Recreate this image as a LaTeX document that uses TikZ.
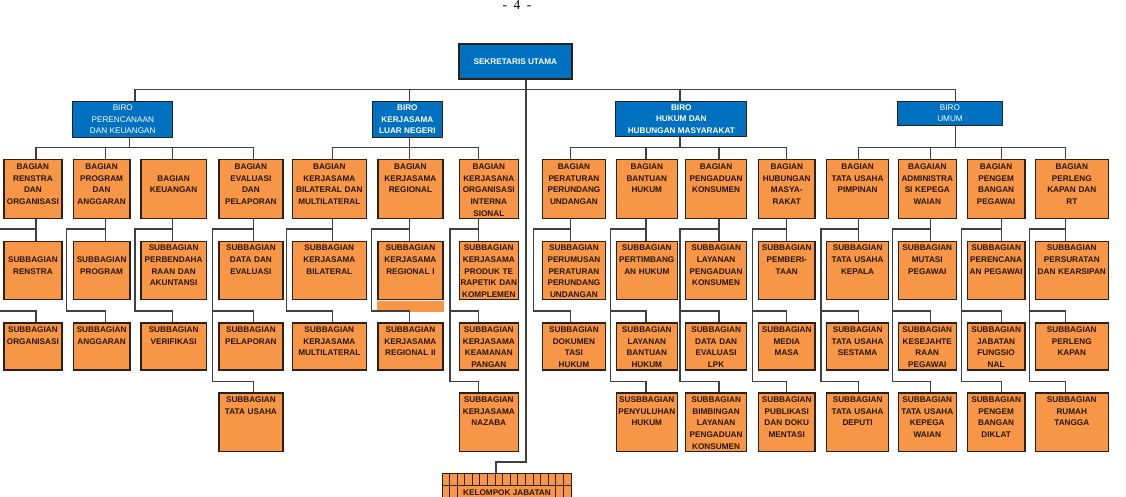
\documentclass[tikz,border=0pt]{standalone}
\usepackage{fontspec}
\setmainfont{Liberation Sans}
\newfontfamily\pagenumfont{Liberation Serif}

\definecolor{biroblue}{RGB}{0,112,192}
\definecolor{unitorange}{RGB}{247,150,70}
\definecolor{edgedark}{RGB}{45,32,22}
\definecolor{linkgray}{RGB}{64,64,64}
\definecolor{textdark}{RGB}{40,22,8}

\begin{document}
\begin{tikzpicture}[x=1pt, y=-1pt,
    orgline/.style={draw=linkgray, line width=1.1pt},
    biro/.style={draw=edgedark, line width=1pt, fill=biroblue, text=white, anchor=north west,
        inner sep=0pt, align=center, font=\fontsize{8.2}{11.3}\selectfont},
    birobold/.style={font=\fontsize{8.2}{11.3}\selectfont\bfseries},
    unitbox/.style={draw=edgedark, line width=1.2pt, fill=unitorange, text=textdark, anchor=north west,
        inner xsep=0pt, inner ysep=3.5pt, align=center, text height=6pt,
        font=\fontsize{8.2}{11.7}\selectfont\bfseries},
    rowtall/.style={text depth=45.5pt},
    rowshort/.style={text depth=34pt},
    cell/.style={draw=edgedark, line width=0.8pt}]

\useasboundingbox (0,0) rectangle (1126,497);
\clip (0,0) rectangle (1126,497);

% Page number
\node[font=\pagenumfont\fontsize{13.5}{13.5}\selectfont, anchor=base] (pg) at (517,10) {-\hspace{6.5pt}4\hspace{6.5pt}-};

% Sekretaris Utama and the four biro
\node[biro, birobold, line width=1.6pt, minimum width=113pt, minimum height=35pt] (su) at (458,43) {SEKRETARIS UTAMA};
\node[biro, minimum width=100pt, minimum height=35.7pt] (b1) at (72.3,101) {BIRO\\PERENCANAAN\\DAN KEUANGAN};
\node[biro, birobold, minimum width=70.3pt, minimum height=35.7pt] (b2) at (371.7,101) {BIRO\\KERJASAMA\\LUAR NEGERI};
\node[biro, birobold, minimum width=131pt, minimum height=35.3pt] (b3) at (615.3,101) {BIRO\\HUKUM DAN\\HUBUNGAN MASYARAKAT};
\node[biro, minimum width=104.4pt, minimum height=23.7pt] (b4) at (897.3,101) {BIRO\\UMUM};

% Biro Perencanaan dan Keuangan
\begin{scope}
    \node[unitbox, rowtall, text width=58pt] (bg1) at (3.3,159.3) {BAGIAN\\RENSTRA\\DAN\\ORGANISASI};
    \node[unitbox, rowtall, text width=58pt] (sa1) at (3.3,240.7) {\mbox{}\\SUBBAGIAN\\RENSTRA};
    \node[unitbox, rowshort, text width=58pt] (sb1) at (3.3,322.3) {SUBBAGIAN\\ORGANISASI};

    \node[unitbox, rowtall, text width=56.6pt] (bg2) at (72.7,159.3) {BAGIAN\\PROGRAM\\DAN\\ANGGARAN};
    \node[unitbox, rowtall, text width=56.6pt] (sa2) at (72.7,240.7) {\mbox{}\\SUBBAGIAN\\PROGRAM};
    \node[unitbox, rowshort, text width=56.6pt] (sb2) at (72.7,322.3) {SUBBAGIAN\\ANGGARAN};

    \node[unitbox, rowtall, text width=65.4pt] (bg3) at (140.3,159.3) {\mbox{}\\BAGIAN\\KEUANGAN};
    \node[unitbox, rowtall, text width=65.4pt] (sa3) at (140.3,240.7) {SUBBAGIAN\\PERBENDAHA\\RAAN DAN\\AKUNTANSI};
    \node[unitbox, rowshort, text width=65.4pt] (sb3) at (140.3,322.3) {SUBBAGIAN\\VERIFIKASI};

    \node[unitbox, rowtall, text width=64pt] (bg4) at (218.3,159.3) {BAGIAN\\EVALUASI\\DAN\\PELAPORAN};
    \node[unitbox, rowtall, text width=64pt] (sa4) at (218.3,240.7) {SUBBAGIAN\\DATA DAN\\EVALUASI};
    \node[unitbox, rowshort, text width=64pt] (sb4) at (218.3,322.3) {SUBBAGIAN\\PELAPORAN};
    \node[unitbox, rowtall, text width=64pt] (sc4) at (218.3,392.3) {SUBBAGIAN\\TATA USAHA};
\end{scope}

% Biro Kerjasama Luar Negeri
\begin{scope}
    \node[unitbox, rowtall, text width=74pt] (bg5) at (291.7,159.3) {BAGIAN\\KERJASAMA\\BILATERAL DAN\\MULTILATERAL};
    \node[unitbox, rowtall, text width=74pt] (sa5) at (291.7,240.7) {SUBBAGIAN\\KERJASAMA\\BILATERAL};
    \node[unitbox, rowshort, text width=74pt] (sb5) at (291.7,322.3) {SUBBAGIAN\\KERJASAMA\\MULTILATERAL};

    \node[unitbox, rowtall, text width=65pt] (bg6) at (377.3,159.3) {BAGIAN\\KERJASAMA\\REGIONAL};
    \node[unitbox, rowtall, text width=65pt] (sa6) at (377.3,240.7) {SUBBAGIAN\\KERJASAMA\\REGIONAL I};
    \node[unitbox, rowshort, text width=65pt] (sb6) at (377.3,322.3) {SUBBAGIAN\\KERJASAMA\\REGIONAL II};
    \fill[unitorange] ([yshift=-0.6pt]sa6.south west) rectangle ([yshift=-11.7pt]sa6.south east);

    \node[unitbox, rowtall, text width=59pt] (bg7) at (458.7,159.3) {BAGIAN\\KERJASANA\\ORGANISASI\\INTERNA\\SIONAL};
    \node[unitbox, rowtall, text width=59pt] (sa7) at (458.7,240.7) {SUBBAGIAN\\KERJASAMA\\PRODUK TE\\RAPETIK DAN\\KOMPLEMEN};
    \node[unitbox, rowshort, text width=59pt] (sb7) at (458.7,322.3) {SUBBAGIAN\\KERJASAMA\\KEAMANAN\\PANGAN};
    \node[unitbox, rowtall, text width=59pt] (sc7) at (458.7,392.3) {SUBBAGIAN\\KERJASAMA\\NAZABA};
\end{scope}

% Biro Hukum dan Hubungan Masyarakat
\begin{scope}
    \node[unitbox, rowtall, text width=63.3pt] (bg8) at (541.7,159.3) {BAGIAN\\PERATURAN\\PERUNDANG\\UNDANGAN};
    \node[unitbox, rowtall, text width=63.3pt] (sa8) at (541.7,240.7) {SUBBAGIAN\\PERUMUSAN\\PERATURAN\\PERUNDANG\\UNDANGAN};
    \node[unitbox, rowshort, text width=63.3pt] (sb8) at (541.7,322.3) {SUBBAGIAN\\DOKUMEN\\TASI\\HUKUM};

    \node[unitbox, rowtall, text width=61pt] (bg9) at (615.7,159.3) {BAGIAN\\BANTUAN\\HUKUM};
    \node[unitbox, rowtall, text width=61pt] (sa9) at (615.7,240.7) {SUBBAGIAN\\PERTIMBANG\\AN HUKUM};
    \node[unitbox, rowshort, text width=61pt] (sb9) at (615.7,322.3) {SUBBAGIAN\\LAYANAN\\BANTUAN\\HUKUM};
    \node[unitbox, rowtall, text width=61pt] (sc9) at (615.7,392.3) {SUSBBAGIAN\\PENYULUHAN\\HUKUM};

    \node[unitbox, rowtall, text width=61pt] (bg10) at (685,159.3) {BAGIAN\\PENGADUAN\\KONSUMEN};
    \node[unitbox, rowtall, text width=61pt] (sa10) at (685,240.7) {SUBBAGIAN\\LAYANAN\\PENGADUAN\\KONSUMEN};
    \node[unitbox, rowshort, text width=61pt] (sb10) at (685,322.3) {SUBBAGIAN\\DATA DAN\\EVALUASI\\LPK};
    \node[unitbox, rowtall, text width=61pt] (sc10) at (685,392.3) {SUBBAGIAN\\BIMBINGAN\\LAYANAN\\PENGADUAN\\KONSUMEN};

    \node[unitbox, rowtall, text width=56.3pt] (bg11) at (758,159.3) {BAGIAN\\HUBUNGAN\\MASYA-\\RAKAT};
    \node[unitbox, rowtall, text width=56.3pt] (sa11) at (758,240.7) {SUBBAGIAN\\PEMBERI-\\TAAN};
    \node[unitbox, rowshort, text width=56.3pt] (sb11) at (758,322.3) {SUBBAGIAN\\MEDIA\\MASA};
    \node[unitbox, rowtall, text width=56.3pt] (sc11) at (758,392.3) {SUBBAGIAN\\PUBLIKASI\\DAN DOKU\\MENTASI};
\end{scope}

% Biro Umum
\begin{scope}
    \node[unitbox, rowtall, text width=62pt] (bg12) at (826,159.3) {BAGIAN\\TATA USAHA\\PIMPINAN};
    \node[unitbox, rowtall, text width=62pt] (sa12) at (826,240.7) {SUBBAGIAN\\TATA USAHA\\KEPALA};
    \node[unitbox, rowshort, text width=62pt] (sb12) at (826,322.3) {SUBBAGIAN\\TATA USAHA\\SESTAMA};
    \node[unitbox, rowtall, text width=62pt] (sc12) at (826,392.3) {SUBBAGIAN\\TATA USAHA\\DEPUTI};

    \node[unitbox, rowtall, text width=58pt] (bg13) at (897.7,159.3) {BAGAIAN\\ADMINISTRA\\SI KEPEGA\\WAIAN};
    \node[unitbox, rowtall, text width=58pt] (sa13) at (897.7,240.7) {SUBBAGIAN\\MUTASI\\PEGAWAI};
    \node[unitbox, rowshort, text width=58pt] (sb13) at (897.7,322.3) {SUBBAGIAN\\KESEJAHTE\\RAAN\\PEGAWAI};
    \node[unitbox, rowtall, text width=58pt] (sc13) at (897.7,392.3) {SUBBAGIAN\\TATA USAHA\\KEPEGA\\WAIAN};

    \node[unitbox, rowtall, text width=57.6pt] (bg14) at (966.7,159.3) {BAGIAN\\PENGEM\\BANGAN\\PEGAWAI};
    \node[unitbox, rowtall, text width=57.6pt] (sa14) at (966.7,240.7) {SUBBAGIAN\\PERENCANA\\AN PEGAWAI};
    \node[unitbox, rowshort, text width=57.6pt] (sb14) at (966.7,322.3) {SUBBAGIAN\\JABATAN\\FUNGSIO\\NAL};
    \node[unitbox, rowtall, text width=57.6pt] (sc14) at (966.7,392.3) {SUBBAGIAN\\PENGEM\\BANGAN\\DIKLAT};

    \node[unitbox, rowtall, text width=73pt] (bg15) at (1034.7,159.3) {BAGIAN\\PERLENG\\KAPAN DAN\\RT};
    \node[unitbox, rowtall, text width=73pt] (sa15) at (1034.7,240.7) {SUBBAGIAN\\PERSURATAN\\DAN KEARSIPAN};
    \node[unitbox, rowshort, text width=73pt] (sb15) at (1034.7,322.3) {SUBBAGIAN\\PERLENG\\KAPAN};
    \node[unitbox, rowtall, text width=73pt] (sc15) at (1034.7,392.3) {SUBBAGIAN\\RUMAH\\TANGGA};
\end{scope}

% Kelompok jabatan at the foot of the trunk
\node[unitbox, minimum width=129.3pt, minimum height=38.6pt] (kj) at (441.7,473) {KELOMPOK JABATAN};
\foreach \i in {1,...,16}
    \draw[cell] ([xshift=\i*7.6pt]kj.north west) -- ++(0,12.7);
\draw[cell] ([yshift=-12.7pt]kj.north west) -- ([yshift=-12.7pt]kj.north east);
\foreach \i in {1,2,15,16}
    \draw[cell] ([xshift=\i*7.6pt, yshift=-12.7pt]kj.north west) -- ++(0,30);

% Levels and drop points of the connectors
\coordinate (lvtop) at (0,89.3);
\coordinate (lvbus) at (0,147.7);
\coordinate (lvA) at (0,229);
\coordinate (lvB) at (0,311);
\coordinate (lvC) at (0,381.5);
\coordinate (lvK) at (0,462);
\coordinate (trunk) at (526,0);
\coordinate (kjdrop) at (496,0);
\coordinate (bt1) at (135,0);
\coordinate (bt2) at (409.3,0);
\coordinate (bt3) at (680,0);
\coordinate (bt4) at (955.3,0);
\coordinate (bb1) at (129.3,0);
\foreach \n/\xd/\xs in {1/36/-4, 2/105.3/66.3, 3/172.3/135, 4/253.3/212.3, 5/332.3/286.7,
        6/409.3/371.7, 7/478.3/450, 8/570.7/533.3, 9/646/610.7, 10/719/680,
        11/786.7/752.7, 12/858.3/821, 13/930.3/892.7, 14/1001.7/961.7, 15/1065.7/1029.3} {
    \coordinate (dr\n) at (\xd,0);
    \coordinate (sp\n) at (\xs,0);
}

% Sekretaris Utama to the biro and the kelompok jabatan
\draw[orgline] (su.south -| trunk) -- (trunk |- lvK) -| (kj.north -| kjdrop);
\draw[orgline] (b1.north -| bt1) |- (bt4 |- lvtop) -- (b4.north -| bt4);
\draw[orgline] (b2.north -| bt2) -- (bt2 |- lvtop);
\draw[orgline] (b3.north -| bt3) -- (bt3 |- lvtop);

% Biro to bagian
\draw[orgline] (b1.south -| bb1) -- (bb1 |- lvbus);
\draw[orgline] (bg1.north -| dr1) |- (dr4 |- lvbus) -- (bg4.north -| dr4);
\draw[orgline] (b2.south -| dr6) -- (bg6.north -| dr6);
\draw[orgline] (bg5.north -| dr5) |- (dr7 |- lvbus) -- (bg7.north -| dr7);
\draw[orgline] (b3.south -| bt3) -- (bt3 |- lvbus);
\draw[orgline] (bg8.north -| dr8) |- (dr11 |- lvbus) -- (bg11.north -| dr11);
\draw[orgline] (b4.south -| bt4) -- (bt4 |- lvbus);
\draw[orgline] (bg12.north -| dr12) |- (dr15 |- lvbus) -- (bg15.north -| dr15);
\foreach \n in {2,3,9,10,13,14}
    \draw[orgline] (bg\n.north -| dr\n) -- (dr\n |- lvbus);

% Bagian to subbagian
\foreach \n in {1,...,15} {
    \draw[orgline] (bg\n.south -| dr\n) -- (sa\n.north -| dr\n);
    \draw[orgline] (dr\n |- lvA) -| (sp\n |- lvB) -| (sb\n.north -| dr\n);
}
\foreach \n in {4,7,9,10,11,12,13,14,15}
    \draw[orgline] (sp\n |- lvB) |- (dr\n |- lvC) -- (sc\n.north -| dr\n);

\end{tikzpicture}
\end{document}
